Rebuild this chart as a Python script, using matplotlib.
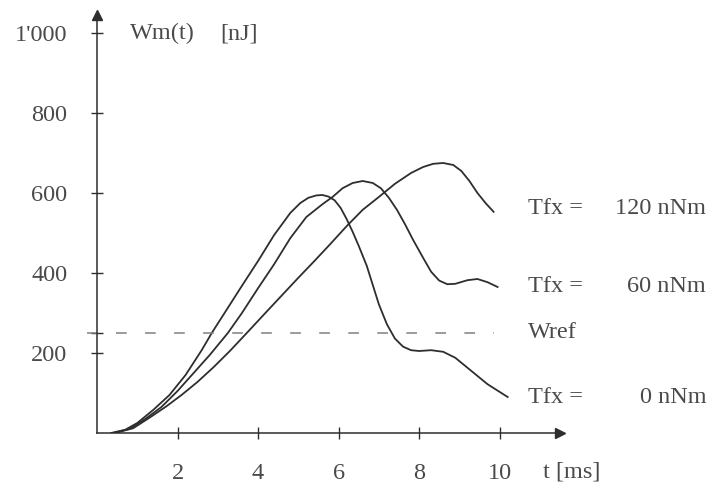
import matplotlib.pyplot as plt

# curve samples: t [ms], Wm [nJ]
t_0 = [0.35, 0.7, 1.0, 1.4, 1.8, 2.2, 2.6, 2.85, 3.2, 3.6, 4.0, 4.4, 4.8, 5.05, 5.25, 5.45,
       5.6, 5.75, 5.9, 6.05, 6.2, 6.35, 6.5, 6.7, 7.0, 7.2, 7.4, 7.6, 7.8, 8.0, 8.3, 8.6,
       8.9, 9.3, 9.7, 10.2]
w_0 = [0, 8, 25, 58, 95, 145, 207, 250, 305, 368, 430, 495, 550, 575, 588, 594,
       595, 591, 582, 563, 535, 503, 468, 418, 322, 272, 236, 216, 207, 205, 207, 203,
       188, 155, 122, 90]

t_60 = [0.4, 0.8, 1.2, 1.6, 2.0, 2.4, 2.8, 3.25, 3.6, 4.0, 4.4, 4.8, 5.2, 5.6, 5.85, 6.1,
        6.35, 6.6, 6.85, 7.05, 7.25, 7.45, 7.65, 7.85, 8.1, 8.3, 8.5, 8.7, 8.9, 9.2, 9.45,
        9.7, 9.95]
w_60 = [0, 10, 35, 65, 105, 150, 195, 250, 300, 362, 422, 487, 540, 572, 590, 612,
        625, 630, 625, 612, 588, 558, 522, 483, 438, 403, 381, 372, 373, 382, 385,
        377, 365]

t_120 = [0.45, 0.9, 1.3, 1.7, 2.1, 2.5, 2.9, 3.3, 3.72, 4.2, 4.6, 5.0, 5.4, 5.8, 6.2, 6.6,
         7.0, 7.4, 7.8, 8.1, 8.35, 8.6, 8.85, 9.05, 9.25, 9.45, 9.65, 9.85]
w_120 = [0, 12, 38, 65, 95, 128, 165, 205, 250, 302, 345, 388, 430, 473, 517, 558,
         590, 623, 650, 665, 673, 675, 670, 655, 630, 600, 575, 553]

w_ref = 250
x_ticks = [2, 4, 6, 8, 10]
y_ticks = [200, 250, 400, 600, 800, 1000]
y_labels = ['200', '', '400', '600', '800', "1'000"]
curve_labels = ['120 nNm', '60 nNm', '0 nNm']
label_levels = [562, 365, 88]

plt.rcParams['font.family'] = ['Liberation Serif', 'DejaVu Serif']
line_col = '#2e2e2e'
text_col = '#4a4a4a'
fs = 17.5

fig = plt.figure(figsize=(7.17, 4.92), dpi=100)
ax = fig.add_axes([97 / 717, 59 / 492, 463 / 717, 418 / 492])
ax.set_xlim(0, 11.5)
ax.set_ylim(0, 1045)

for t, w in [(t_0, w_0), (t_60, w_60), (t_120, w_120)]:
    ax.plot(t, w, color=line_col, lw=1.3)

ax.plot([-0.25, 9.85], [w_ref, w_ref], color='#808080', lw=1.1,
        dashes=(7, 12), clip_on=False)

# axes with arrows, no frame
for s in ['top', 'right']:
    ax.spines[s].set_visible(False)
for s in ['left', 'bottom']:
    ax.spines[s].set_color(line_col)
    ax.spines[s].set_linewidth(1.1)
ax.plot(1, 0, '>', color=line_col, ms=7, transform=ax.get_yaxis_transform(), clip_on=False)
ax.plot(0, 1, '^', color=line_col, ms=7, transform=ax.get_xaxis_transform(), clip_on=False)

ax.set_xticks(x_ticks)
ax.set_xticklabels([str(v) for v in x_ticks])
ax.set_yticks(y_ticks)
ax.set_yticklabels(y_labels)
ax.tick_params(direction='inout', length=9, width=1, color=line_col,
               labelsize=fs, labelcolor=text_col)
ax.tick_params(axis='x', pad=17)
ax.tick_params(axis='y', pad=17)

ax.text(0.82, 998, 'Wm(t)', fontsize=fs, color=text_col, va='center')
ax.text(3.05, 998, '[nJ]', fontsize=fs, color=text_col, va='center')
ax.text(11.07, -97, 't [ms]', fontsize=fs, color=text_col, va='center', clip_on=False)

for lab, lev in zip(curve_labels, label_levels):
    ax.text(10.7, lev, 'Tfx =', fontsize=fs, color=text_col, va='center', clip_on=False)
    ax.text(15.13, lev, lab, fontsize=fs, color=text_col, va='center', ha='right',
            clip_on=False)
ax.text(10.7, w_ref, 'Wref', fontsize=fs, color=text_col, va='center', clip_on=False)

fig.savefig('out.png', dpi=100, facecolor='white')
